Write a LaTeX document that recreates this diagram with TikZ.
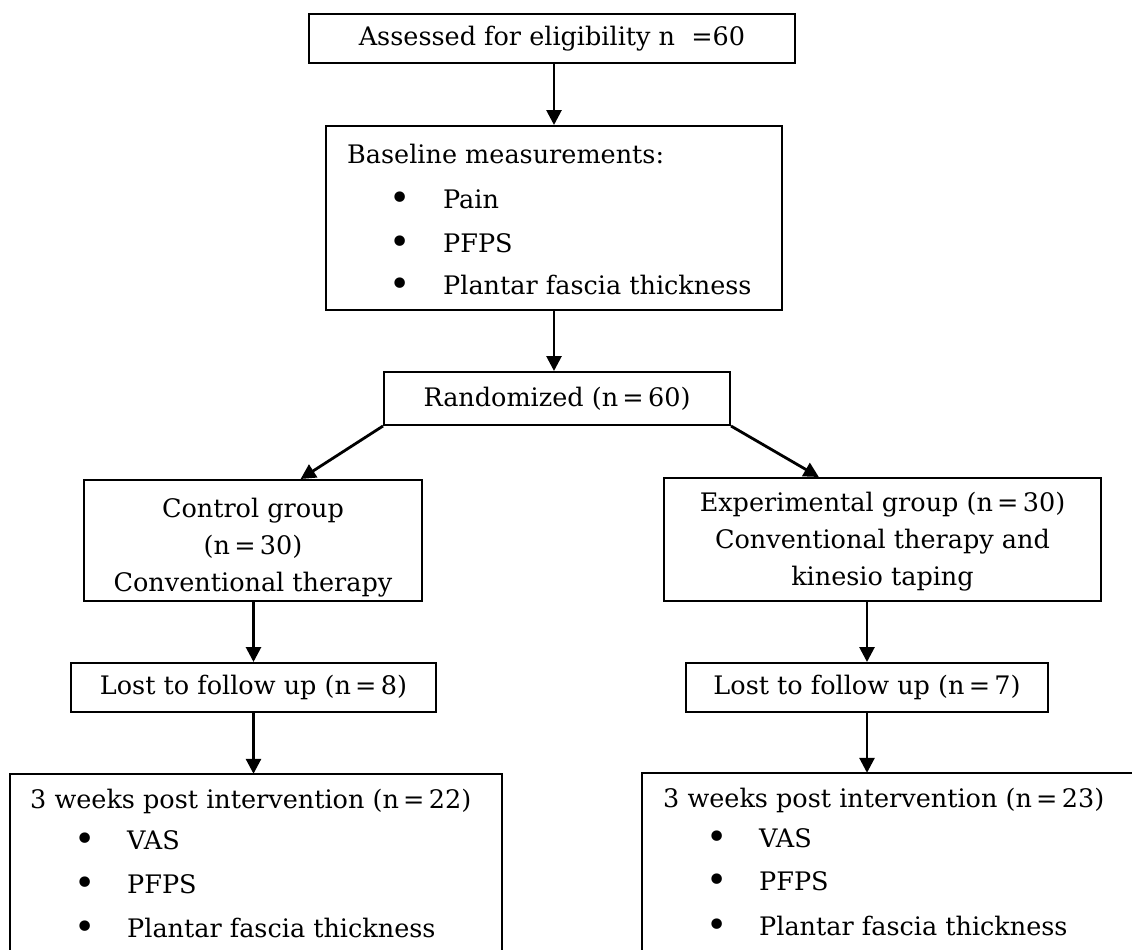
\documentclass[tikz,border=0pt]{standalone}
\usepackage{fontspec}
\setmainfont{DejaVu Serif}
\usetikzlibrary{arrows.meta,calc}
\begin{document}
\begin{tikzpicture}[x=1pt,y=-1pt,
  box/.style={draw,line width=2pt,inner sep=0pt,font=\fontsize{25.5}{37}\selectfont},
  arr/.style={line width=2.8pt,-{Triangle[length=15pt,width=15pt]}},
  txt/.style={inner sep=0pt,font=\fontsize{25.5}{37}\selectfont},
  bul/.style={inner sep=0pt,font=\fontsize{36}{36}\selectfont,anchor=center},
  frame/.style={line width=2pt},
]
\useasboundingbox (0,0) rectangle (1132,950);

% boxes
\node[box,minimum width=486,minimum height=49] (assess) at (552,38.5) {Assessed for eligibility n \ =60};
\node[box,minimum width=456,minimum height=184] (base) at (554,218) {};
\node[box,minimum width=346,minimum height=53] (rand) at (557,398.5) {Randomized (n\,=\,60)};
\node[box,minimum width=338,minimum height=121] (ctrl) at (253,540.5) {};
\node[box,minimum width=437,minimum height=123] (exp) at (882.5,539.5) {};
\node[box,minimum width=365,minimum height=49] (lost1) at (253.5,687.5) {Lost to follow up (n\,=\,8)};
\node[box,minimum width=362,minimum height=49] (lost2) at (867,687.5) {Lost to follow up (n\,=\,7)};
\node[inner sep=0pt,minimum width=492,minimum height=176] (post1) at (256,862) {};
\node[inner sep=0pt,minimum width=490,minimum height=177] (post2) at (887,861.5) {};
\draw[frame] (post1.south west) |- (post1.north east) -- (post1.south east);
\draw[frame] (post2.south west) |- (post2.north east);

% baseline texts
\node[txt,anchor=base west] (b0) at (347,163) {Baseline measurements:};
\node[bul] (bb1) at (400,201) {•};
\node[txt,anchor=base west] (b1) at (443,208) {Pain};
\node[bul] (bb2) at (400,245) {•};
\node[txt,anchor=base west] (b2) at (443,252) {PFPS};
\node[bul] (bb3) at (400,287) {•};
\node[txt,anchor=base west] (b3) at (443,294) {Plantar fascia thickness};

% group texts
\node[txt,align=center] (ctxt) at (253,548) {Control group\\(n\,=\,30)\\Conventional therapy};
\node[txt,align=center] (etxt) at (882.5,542) {Experimental group (n\,=\,30)\\Conventional therapy and\\kinesio taping};

% post texts left
\node[txt,anchor=base west] (p10) at (30,808) {3 weeks post intervention (n\,=\,22)};
\node[bul] (pb11) at (85,842) {•};
\node[txt,anchor=base west] (p11) at (127,849) {VAS};
\node[bul] (pb12) at (85,886) {•};
\node[txt,anchor=base west] (p12) at (127,893) {PFPS};
\node[bul] (pb13) at (85,930) {•};
\node[txt,anchor=base west] (p13) at (127,937) {Plantar fascia thickness};

% post texts right
\node[txt,anchor=base west] (p20) at (663,807) {3 weeks post intervention (n\,=\,23)};
\node[bul] (pb21) at (717,840) {•};
\node[txt,anchor=base west] (p21) at (759,847) {VAS};
\node[bul] (pb22) at (717,883) {•};
\node[txt,anchor=base west] (p22) at (759,890) {PFPS};
\node[bul] (pb23) at (717,928) {•};
\node[txt,anchor=base west] (p23) at (759,935) {Plantar fascia thickness};

% arrows
\draw[arr] (assess.south -| base.north) -- (base.north);
\draw[arr] (base.south) -- (base.south |- rand.north);
\draw[arr] (rand.south west) -- ($(ctrl.north west)!0.64!(ctrl.north east)$);
\draw[arr] (rand.south east) -- ($(exp.north west)!0.355!(exp.north east)$);
\draw[arr] (ctrl.south -| lost1.north) -- (lost1.north);
\draw[arr] (exp.south -| lost2.north) -- (lost2.north);
\draw[arr] (lost1.south) -- (lost1.south |- post1.north);
\draw[arr] (lost2.south) -- (lost2.south |- post2.north);
\end{tikzpicture}
\end{document}
